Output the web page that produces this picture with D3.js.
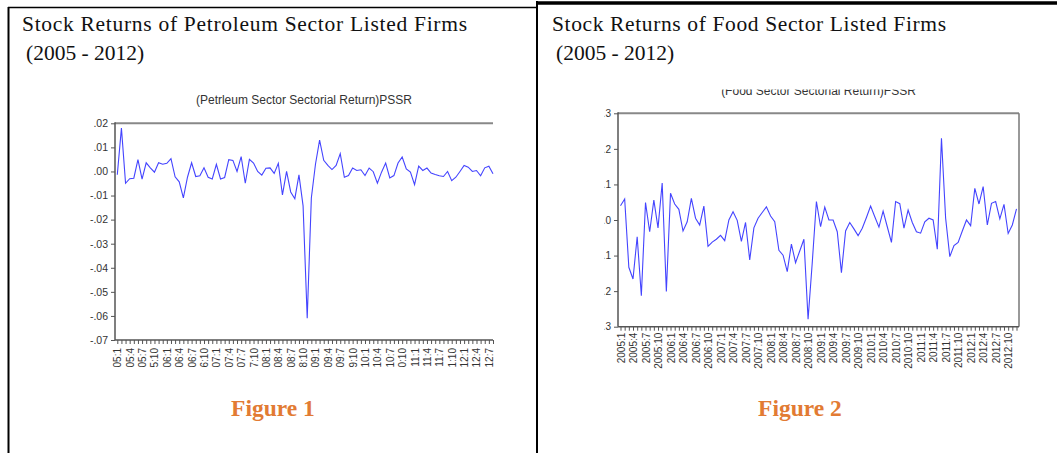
<!DOCTYPE html>
<html>
<head>
<meta charset="utf-8">
<script src="https://cdn.jsdelivr.net/npm/d3@7.9.0/dist/d3.min.js"></script>
<style>
  body { margin: 0; background: #fff; }
  svg { display: block; }
  .tick text { font-family: "Liberation Sans", Arial, sans-serif; fill: #333; }
</style>
</head>
<body>
<svg id="chart" width="1057" height="453"></svg>
<script>
// Petroleum sector monthly returns, 2005:1 .. 2012:8
const petroleum = [
  -0.0014, 0.018, -0.0049, -0.003, -0.0028, 0.0049, -0.0032, 0.0036, 0.0015, -0.0003,
  0.0036, 0.003, 0.0034, 0.0053, -0.0022, -0.0043, -0.011, -0.0024, 0.0036, -0.0021,
  -0.0018, 0.0015, -0.0024, -0.0031, 0.003, -0.0031, -0.0025, 0.0049, 0.0046, 0,
  0.0062, -0.0049, 0.005, 0.0035, 0, -0.0015, 0.0013, 0.0015, -0.0008, 0.0034,
  -0.0097, 0, -0.0085, -0.0113, -0.0014, -0.0143, -0.061, -0.011, 0.003, 0.013,
  0.0046, 0.0025, 0.0008, 0.0025, 0.0074, -0.0024, -0.0017, 0.0014, 0.0004, 0.0007,
  -0.0017, 0.0014, -0.0001, -0.0049, -0.0003, 0.0035, -0.0027, -0.0017, 0.0035, 0.006,
  0.0011, -0.0003, -0.0055, 0.0022, 0.0004, 0.0014, -0.0007, -0.0013, -0.0018, -0.0021,
  0, -0.0038, -0.0024, 0, 0.0025, 0.0018, 0, 0.0004, -0.0018, 0.0015,
  0.0022, -0.001
];

// Food sector monthly returns, 2005:1 .. 2012:12
const food = [
  0.040, 0.059, -0.133, -0.166, -0.047, -0.213, 0.049, -0.033, 0.056, -0.022,
  0.104, -0.201, 0.075, 0.045, 0.030, -0.031, -0.005, 0.061, 0.005, -0.014,
  0.039, -0.074, -0.062, -0.054, -0.043, -0.058, 0.000, 0.023, -0.001, -0.060,
  -0.007, -0.112, -0.022, 0.005, 0.021, 0.037, 0.011, -0.005, -0.085, -0.099,
  -0.145, -0.068, -0.120, -0.087, -0.054, -0.279, -0.120, 0.052, -0.019, 0.036,
  0.000, 0.000, -0.033, -0.148, -0.031, -0.007, -0.025, -0.044, -0.023, 0.007,
  0.039, 0.009, -0.020, 0.025, -0.019, -0.063, 0.052, 0.046, -0.023, 0.028,
  -0.007, -0.033, -0.037, -0.005, 0.005, 0.000, -0.082, 0.230, 0.005, -0.103,
  -0.072, -0.063, -0.031, 0.000, -0.016, 0.089, 0.045, 0.094, -0.014, 0.047,
  0.052, 0.003, 0.044, -0.038, -0.014, 0.031
];

// tick labels (every 3rd month)
const petroLabels = ["05:1","05:4","05:7","5:10","06:1","06:4","06:7","6:10",
  "07:1","07:4","07:7","7:10","08:1","08:4","08:7","8:10","09:1","09:4","09:7","9:10",
  "10:1","10:4","10:7","0:10","11:1","11:4","11:7","1:10","12:1","12:4","12:7"];
const foodLabels = ["2005:1","2005:4","2005:7","2005:10","2006:1","2006:4","2006:7","2006:10",
  "2007:1","2007:4","2007:7","2007:10","2008:1","2008:4","2008:7","2008:10",
  "2009:1","2009:4","2009:7","2009:10","2010:1","2010:4","2010:7","2010:10",
  "2011:1","2011:4","2011:7","2011:10","2012:1","2012:4","2012:7","2012:10"];
const petroTicks = [0.02, 0.01, 0, -0.01, -0.02, -0.03, -0.04, -0.05, -0.06, -0.07];
const petroTickLabels = [".02",".01",".00","-.01","-.02","-.03","-.04","-.05","-.06","-.07"];
const foodTicks = [0.3, 0.2, 0.1, 0, -0.1, -0.2, -0.3];
const foodTickLabels = [".3",".2",".1",".0","-.1","-.2","-.3"];

const svg = d3.select('#chart');
const serif = '"Liberation Serif", "DejaVu Serif", serif';
const sans = '"Liberation Sans", Arial, sans-serif';

// page frame (table borders)
svg.append('line').attr('x1', 8).attr('x2', 537).attr('y1', 7.5).attr('y2', 7.5)
  .attr('stroke', '#000').attr('stroke-width', 1.5);
svg.append('line').attr('x1', 537).attr('x2', 1057).attr('y1', 3).attr('y2', 3)
  .attr('stroke', '#000').attr('stroke-width', 3.5);
svg.append('line').attr('x1', 8.5).attr('x2', 8.5).attr('y1', 7).attr('y2', 453)
  .attr('stroke', '#000').attr('stroke-width', 2);
svg.append('line').attr('x1', 537).attr('x2', 537).attr('y1', 1).attr('y2', 453)
  .attr('stroke', '#000').attr('stroke-width', 2);

// headings
function heading(x, lines, width) {
  lines.forEach((t, i) => {
    const el = svg.append('text')
      .attr('x', x + (i ? 4 : 0)).attr('y', i ? 60 : 31)
      .attr('font-family', serif).attr('font-size', 21.5).attr('fill', '#111')
      .text(t);
    if (i === 0) el.attr('textLength', width).attr('lengthAdjust', 'spacing');
  });
}
heading(22, ['Stock Returns of Petroleum Sector Listed Firms', '(2005 - 2012)'], 445);
heading(552, ['Stock Returns of Food Sector Listed Firms', '(2005 - 2012)'], 394);

svg.append('text').attr('x', 273).attr('y', 416).attr('text-anchor', 'middle')
  .attr('font-family', serif).attr('font-weight', 'bold').attr('font-size', 23.5)
  .attr('fill', '#E27B33').text('Figure 1');
svg.append('text').attr('x', 800).attr('y', 416).attr('text-anchor', 'middle')
  .attr('font-family', serif).attr('font-weight', 'bold').attr('font-size', 23.5)
  .attr('fill', '#E27B33').text('Figure 2');

function drawChart(g, cfg) {
  const x = d3.scaleLinear().domain([0, cfg.data.length - 1]).range(cfg.xRange);
  const y = d3.scaleLinear().domain(cfg.yDomain).range([cfg.bottom, cfg.top]);

  g.append('text').attr('x', (cfg.left + cfg.right) / 2).attr('y', cfg.titleY)
    .attr('text-anchor', 'middle').attr('font-family', sans).attr('font-size', 12)
    .attr('fill', '#333').text(cfg.title);

  // top frame line (and right one for the boxed chart)
  g.append('line').attr('x1', cfg.left).attr('x2', cfg.right)
    .attr('y1', cfg.top).attr('y2', cfg.top)
    .attr('stroke', '#888').attr('stroke-width', 2);
  if (cfg.box) {
    g.append('line').attr('x1', cfg.right).attr('x2', cfg.right)
      .attr('y1', cfg.top).attr('y2', cfg.bottom)
      .attr('stroke', '#777').attr('stroke-width', 1.5);
  }

  const yAxis = d3.axisLeft(y).tickValues(cfg.yTicks).tickSize(4).tickPadding(3)
    .tickFormat((d, i) => cfg.yTickLabels[i]);
  const ya = g.append('g').attr('transform', `translate(${cfg.left},0)`).call(yAxis);
  ya.select('.domain').remove();
  ya.selectAll('.tick line').attr('stroke', '#555');
  ya.selectAll('.tick text').attr('font-size', cfg.yFont);
  g.append('line').attr('x1', cfg.left).attr('x2', cfg.left)
    .attr('y1', cfg.top - 1).attr('y2', cfg.bottom)
    .attr('stroke', '#555').attr('stroke-width', 1.5);

  const xAxis = d3.axisBottom(x).tickValues(d3.range(cfg.data.length)).tickSize(4)
    .tickPadding(2)
    .tickFormat(i => i % 3 === 0 ? cfg.xLabels[i / 3] : '');
  const xa = g.append('g').attr('transform', `translate(0,${cfg.bottom})`).call(xAxis);
  xa.select('.domain').remove();
  xa.selectAll('.tick line').attr('stroke', '#555');
  xa.selectAll('.tick text')
    .attr('font-size', 10)
    .attr('transform', 'rotate(-90)')
    .attr('text-anchor', 'end')
    .attr('x', -cfg.labelGap).attr('y', 0).attr('dy', '0.35em');
  g.append('line').attr('x1', cfg.left).attr('x2', cfg.right)
    .attr('y1', cfg.bottom).attr('y2', cfg.bottom)
    .attr('stroke', '#555').attr('stroke-width', 1.5);

  const line = d3.line().x((d, i) => x(i)).y(d => y(d));
  g.append('path').datum(cfg.data).attr('d', line)
    .attr('fill', 'none').attr('stroke', '#4444ff').attr('stroke-width', 1.1);
}

drawChart(svg.append('g'), {
  data: petroleum, title: '(Petrleum Sector Sectorial Return)PSSR', titleY: 104,
  left: 115, right: 493, top: 123.3, bottom: 340, xRange: [117.3, 493],
  yDomain: [-0.07, 0.02], yTicks: petroTicks, yTickLabels: petroTickLabels, yFont: 10.5,
  xLabels: petroLabels, labelGap: 8, box: false
});

svg.append('clipPath').attr('id', 'clip2').append('rect')
  .attr('x', 604.5).attr('y', 89.5).attr('width', 440).attr('height', 360);
drawChart(svg.append('g').attr('clip-path', 'url(#clip2)'), {
  data: food, title: '(Food Sector Sectorial Return)FSSR', titleY: 95,
  left: 618, right: 1019, top: 113.3, bottom: 326.7, xRange: [620.5, 1016.5],
  yDomain: [-0.3, 0.3], yTicks: foodTicks, yTickLabels: foodTickLabels, yFont: 10,
  xLabels: foodLabels, labelGap: 6, box: true
});
</script>
</body>
</html>
